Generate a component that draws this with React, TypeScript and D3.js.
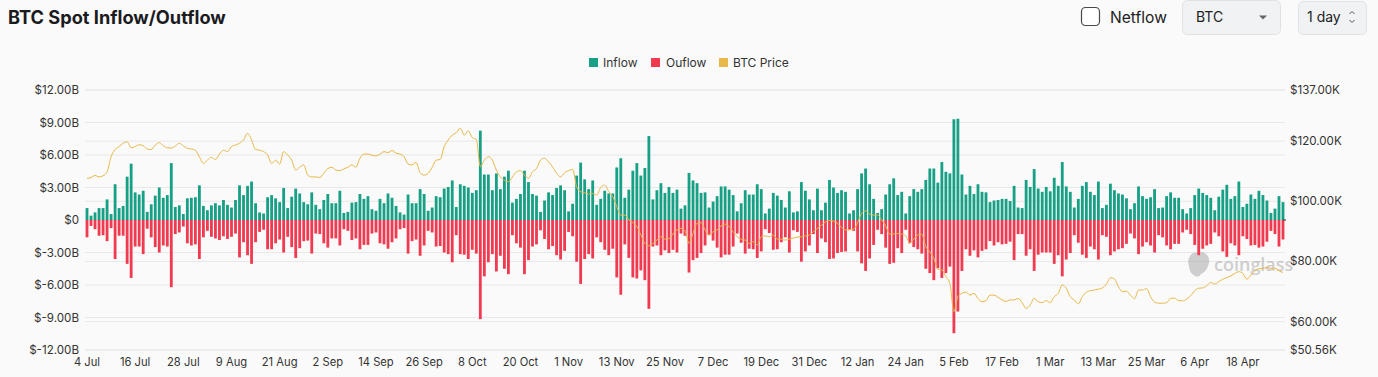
import React from "react";
import * as d3 from "d3";

const START = new Date(2025, 6, 4);

const inflow = [
  1.1, 0.4, 0.7, 1.1, 1.1, 1.9, 0.55, 3.3, 1.1, 1.3, 4.0, 5.2, 2.55, 2.35, 2.7, 0.75, 1.45, 2.25, 3.0, 2.05, 2.3, 5.25, 1.2, 1.35, 0.55, 2.0, 2.05,
  2.1, 3.2, 1.3, 0.9, 1.35, 1.55, 1.35, 1.85, 1.4, 1.15, 1.85, 3.2, 2.3, 3.15, 3.55, 1.55, 0.7, 0.6, 2.1, 2.3, 2.0, 1.65, 2.95, 1.1, 2.15, 2.9, 2.45,
  1.65, 1.45, 2.55, 1.4, 1.0, 1.85, 2.4, 1.55, 1.55, 2.7, 0.65, 0.75, 1.6, 1.65, 2.4, 1.95, 2.2, 1.0, 0.85, 1.95, 1.55, 2.45, 2.05, 1.3, 0.7, 0.5, 2.35,
  1.55, 1.55, 2.85, 2.4, 0.85, 1.15, 2.2, 2.1, 2.9, 3.05, 3.65, 1.2, 3.3, 3.15, 3.0, 2.5, 2.75, 8.25, 4.2, 4.2, 2.75, 4.3, 2.85, 4.0, 4.55, 1.6, 1.95,
  2.4, 4.55, 3.5, 2.4, 2.25, 0.75, 1.8, 2.55, 2.3, 2.95, 3.2, 2.75, 0.8, 1.5, 4.1, 5.3, 3.75, 2.85, 3.65, 1.4, 1.95, 2.7, 2.45, 2.45, 4.85, 5.7, 2.05, 2.8,
  4.55, 5.25, 4.1, 4.8, 7.75, 1.9, 2.75, 3.4, 2.5, 3.05, 2.5, 2.8, 1.05, 1.35, 4.35, 3.65, 3.4, 2.5, 2.55, 1.15, 1.7, 2.2, 3.1, 3.1, 2.8, 2.3, 0.8, 1.55,
  2.75, 2.35, 2.35, 3.3, 2.85, 0.6, 1.05, 2.5, 2.25, 1.85, 1.15, 2.65, 0.7, 0.8, 3.5, 2.7, 1.9, 0.9, 2.9, 0.9, 1.6, 3.7, 3.0, 2.5, 2.75, 2.6, 0.6,
  0.9, 2.85, 4.3, 4.75, 3.3, 1.95, 0.65, 1.0, 2.35, 3.3, 3.85, 2.3, 2.6, 0.6, 2.2, 2.85, 2.6, 2.85, 3.7, 4.75, 4.75, 3.45, 5.35, 4.45, 4.3, 9.3, 9.35, 4.2,
  2.35, 3.15, 2.4, 3.3, 2.6, 2.55, 1.65, 1.8, 1.85, 1.95, 1.95, 1.75, 3.15, 1.15, 1.1, 3.7, 3.05, 4.7, 2.9, 2.6, 3.05, 2.65, 3.9, 3.15, 5.35, 3.1, 2.6,
  1.15, 1.95, 3.15, 3.5, 2.6, 2.3, 3.55, 1.1, 1.4, 3.35, 2.75, 2.45, 2.35, 2.0, 1.0, 1.55, 3.1, 2.2, 1.95, 2.1, 2.85, 1.1, 1.15, 2.2, 2.55, 2.05, 2.05,
  1.0, 0.6, 1.1, 2.3, 2.9, 2.5, 2.3, 2.05, 0.9, 2.15, 2.8, 3.25, 1.95, 2.2, 3.55, 1.2, 1.5, 2.35, 1.95, 2.7, 2.3, 1.8, 0.65, 1.05, 2.2, 1.65,
];

const outflow = [
  1.6, 0.55, 0.85, 1.45, 1.4, 1.95, 0.75, 3.6, 1.45, 1.45, 4.05, 5.35, 2.45, 2.45, 3.15, 0.8, 1.6, 2.5, 3.0, 2.35, 2.45, 6.2, 1.3, 1.15, 0.6, 2.15, 2.35,
  2.25, 3.6, 1.6, 1.0, 1.55, 1.7, 1.85, 1.5, 1.75, 1.55, 1.25, 3.45, 2.05, 3.25, 4.05, 2.05, 1.1, 0.9, 2.7, 2.7, 2.15, 1.8, 3.0, 1.55, 2.5, 3.5, 2.6,
  1.95, 1.9, 3.1, 1.25, 1.3, 2.15, 2.55, 1.7, 1.7, 2.35, 0.85, 1.0, 1.85, 1.7, 2.7, 2.3, 2.3, 1.25, 1.15, 2.15, 2.25, 2.65, 2.05, 1.7, 0.85, 0.75, 3.1,
  1.95, 1.8, 3.3, 2.35, 1.0, 1.15, 2.45, 2.4, 3.0, 3.15, 3.9, 1.4, 3.15, 3.2, 3.6, 2.75, 3.1, 9.15, 5.2, 3.9, 3.15, 4.75, 3.3, 4.5, 5.0, 1.4, 2.15,
  2.55, 5.0, 3.7, 2.45, 2.25, 0.95, 1.75, 2.7, 2.4, 3.25, 3.65, 2.85, 1.1, 1.5, 3.85, 5.9, 3.6, 3.15, 3.55, 1.6, 2.05, 2.75, 3.25, 2.65, 5.3, 6.9, 2.25, 3.5,
  5.3, 5.4, 4.65, 5.55, 8.2, 2.45, 2.35, 3.25, 2.8, 3.05, 2.75, 3.0, 1.25, 1.45, 4.85, 3.7, 3.5, 3.05, 2.35, 1.4, 1.9, 2.55, 3.45, 3.2, 3.2, 2.45, 1.25, 2.1,
  3.1, 2.65, 2.7, 3.5, 2.9, 0.85, 1.2, 2.75, 2.7, 2.05, 1.6, 3.0, 0.95, 1.1, 3.85, 2.9, 2.35, 1.3, 3.05, 1.7, 2.05, 3.6, 3.55, 3.05, 2.95, 2.9, 0.9,
  1.0, 2.9, 4.0, 4.7, 3.55, 2.3, 0.9, 1.3, 2.55, 4.05, 3.95, 2.6, 3.05, 0.9, 2.15, 2.5, 2.7, 3.1, 4.5, 4.9, 5.55, 4.45, 5.35, 4.9, 4.3, 10.45, 8.45, 4.7,
  2.7, 3.3, 2.8, 3.45, 2.85, 2.7, 1.95, 2.35, 2.05, 2.25, 2.2, 2.0, 3.7, 1.3, 1.3, 3.3, 2.7, 4.7, 3.2, 3.0, 3.0, 3.0, 4.05, 3.25, 5.2, 3.65, 3.05,
  1.4, 2.1, 3.2, 3.5, 2.45, 2.7, 3.65, 1.4, 1.55, 3.25, 2.9, 2.7, 2.6, 2.2, 1.25, 1.7, 3.15, 2.45, 2.05, 2.35, 3.0, 1.4, 1.6, 2.35, 2.7, 2.2, 2.2,
  1.15, 0.9, 1.3, 2.3, 3.25, 2.65, 2.35, 2.2, 1.15, 1.5, 2.9, 3.4, 2.15, 2.35, 3.25, 1.5, 1.75, 2.35, 2.3, 2.55, 2.45, 2.0, 1.0, 1.3, 2.45, 1.8,
];

const btcPrice = [
  107.6, 107.9, 108.6, 108.1, 108.5, 109.8, 114.8, 117.2, 118.2, 119.3, 119.8, 117.8, 118.2, 118.8, 118.5, 117.4, 117.2, 118.7, 119.5, 118.5, 117.8, 117.7, 118.4, 119.3, 118.4, 117.6, 117.4,
  117.0, 114.8, 112.6, 113.7, 114.6, 113.9, 115.7, 117.0, 116.5, 118.2, 118.7, 119.3, 120.4, 122.6, 120.4, 117.2, 117.0, 116.5, 115.4, 112.6, 113.7, 112.4, 116.5, 115.4, 113.7, 110.4, 111.4,
  112.1, 108.7, 108.1, 108.1, 107.9, 109.3, 110.9, 111.3, 110.4, 110.2, 110.8, 111.3, 112.1, 111.3, 114.3, 115.7, 115.7, 115.3, 115.1, 115.7, 116.5, 116.2, 116.9, 116.0, 115.7, 114.8, 112.4,
  112.1, 112.9, 109.5, 108.7, 109.3, 111.3, 113.7, 113.9, 118.2, 120.4, 122.0, 122.8, 124.3, 122.0, 123.4, 121.2, 120.6, 111.5, 113.7, 114.8, 113.7, 110.4, 108.1, 107.0, 106.5, 108.1, 109.8,
  110.2, 108.7, 107.6, 109.8, 110.9, 113.7, 114.3, 113.1, 111.5, 109.3, 108.1, 109.5, 110.2, 110.6, 104.8, 103.2, 102.8, 102.4, 102.6, 102.1, 104.6, 105.4, 103.2, 101.5, 98.2, 95.4, 95.4, 93.8,
  92.9, 91.6, 88.8, 86.0, 85.2, 86.0, 87.1, 88.2, 87.4, 87.6, 89.1, 90.5, 91.0, 90.2, 86.0, 89.3, 92.7, 92.9, 90.5, 88.8, 89.9, 90.5, 91.8, 92.4, 91.6, 89.9, 88.2, 87.4,
  87.1, 86.0, 86.6, 85.5, 88.2, 88.5, 88.2, 88.8, 87.4, 87.4, 87.1, 87.4, 87.8, 88.1, 88.2, 88.5, 88.8, 89.9, 91.0, 92.1, 93.1, 93.6, 93.4, 92.7, 91.3, 90.5, 90.5,
  90.7, 92.9, 96.0, 96.8, 95.8, 95.4, 95.4, 93.8, 91.8, 89.1, 89.1, 89.3, 89.1, 88.5, 86.2, 87.4, 88.8, 89.0, 84.9, 83.2, 81.0, 77.4, 77.2, 74.9, 72.7, 63.3, 68.3, 69.4,
  69.8, 68.8, 69.4, 67.7, 66.6, 67.0, 68.8, 68.8, 68.1, 67.2, 66.7, 67.2, 67.2, 67.7, 66.3, 64.4, 65.5, 67.7, 66.6, 66.3, 67.0, 66.3, 68.3, 69.4, 72.2, 71.1, 68.3,
  67.2, 65.9, 68.3, 69.8, 70.3, 70.5, 70.8, 71.2, 72.5, 74.6, 74.2, 71.6, 70.0, 70.1, 68.8, 67.6, 70.5, 70.5, 71.0, 68.3, 66.5, 66.1, 66.1, 66.3, 67.7, 67.8, 67.0,
  66.9, 67.5, 68.6, 70.3, 71.1, 71.2, 71.9, 73.0, 72.5, 73.3, 74.1, 74.6, 75.2, 76.0, 76.6, 76.0, 74.1, 75.5, 76.9, 77.6, 77.7, 78.0, 77.7, 77.7, 76.9, 76.3,
];

const xTickLabels = [
  "4 Jul", "16 Jul", "28 Jul", "9 Aug", "21 Aug", "2 Sep", "14 Sep", "26 Sep", "8 Oct", "20 Oct", "1 Nov", "13 Nov", "25 Nov",
  "7 Dec", "19 Dec", "31 Dec", "12 Jan", "24 Jan", "5 Feb", "17 Feb", "1 Mar", "13 Mar", "25 Mar", "6 Apr", "18 Apr",
];
const flowTicks = [12, 9, 6, 3, 0, -3, -6, -9, -12];
const priceTicks = [137, 120, 100, 80, 60, 50.56];

const W = 1378;
const H = 377;
const PL = 85;
const PR = 1285;
const PT = 90;
const PB = 350;

const GREEN = "#17a085";
const RED = "#f03a50";
const GOLD = "#e8b84a";
const FONT = "Inter, 'Noto Sans', sans-serif";

export default function App() {
  const n = inflow.length;
  const dates = d3.timeDay.range(START, d3.timeDay.offset(START, n));
  const fmt = d3.timeFormat("%-d %b");

  const x = d3.scaleBand<number>().domain(d3.range(n)).range([PL, PR]).paddingInner(0.3).paddingOuter(0.15);
  const bw = x.bandwidth();
  const cx = (i: number) => (x(i) as number) + bw / 2;
  const yL = d3.scaleLinear().domain([-12, 12]).range([PB, PT]);
  const yR = d3.scaleLinear().domain([50.56, 137]).range([PB, PT]);

  const line = d3
    .line<number>()
    .x((_, i) => cx(i))
    .y((d) => yR(d))
    .curve(d3.curveMonotoneX);

  const fmtFlow = (v: number) => (v === 0 ? "$0" : `$${v.toFixed(2)}B`);
  const fmtPrice = (v: number) => `$${v.toFixed(2)}K`;

  const ticksX = dates
    .map((d, i) => ({ label: fmt(d), i }))
    .filter((t) => xTickLabels.includes(t.label));

  return (
    <div style={{ position: "absolute", left: 0, top: 0, width: W, height: H }}>
      <svg width={W} height={H} style={{ display: "block", fontFamily: FONT }}>
        <rect x={0} y={0} width={W} height={H} fill="#fafafa" />
        {/* header */}
        <text x={8} y={24} fontSize={18.2} fontWeight={700} fill="#1b1b1f">
          BTC Spot Inflow/Outflow
        </text>
        <rect x={1081.5} y={7.5} width={18} height={18} rx={4} fill="#fff" stroke="#4a4a4a" strokeWidth={1.2} />
        <text x={1110} y={23} fontSize={15.6} fill="#222">
          Netflow
        </text>
        <rect x={1182.5} y={0.5} width={98} height={34} rx={5} fill="#f1f2f4" stroke="#e0e2e6" />
        <text x={1196} y={22} fontSize={14} fill="#222">
          BTC
        </text>
        <path d="M1259,15.5 L1267,15.5 L1263,19.5 Z" fill="#666" />
        <rect x={1298.5} y={1.5} width={68} height={33} rx={5} fill="#f1f2f4" stroke="#e0e2e6" />
        <text x={1307} y={22} fontSize={14} fill="#222">
          1 day
        </text>
        <path d="M1349.5,14 L1352,11.5 L1354.5,14 M1349.5,20 L1352,22.5 L1354.5,20" fill="none" stroke="#555" strokeWidth={1} />

        {/* legend */}
        <rect x={589} y={58} width={9} height={9} fill={GREEN} />
        <text x={603} y={66.5} fontSize={12} fill="#333">
          Inflow
        </text>
        <rect x={651} y={58} width={9} height={9} fill={RED} />
        <text x={666} y={66.5} fontSize={12} fill="#333">
          Ouflow
        </text>
        <rect x={719} y={58} width={9} height={9} fill={GOLD} />
        <text x={733} y={66.5} fontSize={12} fill="#333">
          BTC Price
        </text>

        {/* grid */}
        {flowTicks.map((t) => (
          <line key={"gl" + t} x1={PL} x2={PR} y1={yL(t)} y2={yL(t)} stroke="#e8e8e8" strokeWidth={1} />
        ))}
        {priceTicks.map((t) => (
          <line key={"gr" + t} x1={PL} x2={PR} y1={yR(t)} y2={yR(t)} stroke="#e8e8e8" strokeWidth={1} />
        ))}

        {/* watermark */}
        <g opacity={0.45} fill="#9a9a9a">
          <path d="M1190,256 Q1193,251 1198,253 Q1203,250 1207,255 Q1211,260 1208,266 Q1206,272 1201,274 Q1199,278 1195,276 Q1189,273 1189,266 Q1187,260 1190,256 Z" />
          <text x={1214} y={271} fontSize={18} fontWeight={600} fontFamily="'Open Sans', sans-serif">
            coinglass
          </text>
        </g>

        {/* bars */}
        {inflow.map((v, i) => (
          <rect key={"in" + i} x={x(i)} y={yL(v)} width={bw} height={yL(0) - yL(v)} fill={GREEN} />
        ))}
        {outflow.map((v, i) => (
          <rect key={"out" + i} x={x(i)} y={yL(0)} width={bw} height={yL(-v) - yL(0)} fill={RED} />
        ))}
        <line x1={PR - 2} x2={PR + 1} y1={yL(0)} y2={yL(0)} stroke="#333" strokeWidth={1} />

        {/* price line */}
        <path d={line(btcPrice.slice(0, n)) || ""} fill="none" stroke={GOLD} strokeWidth={1} />

        {/* left axis */}
        {flowTicks.map((t) => (
          <text key={"lt" + t} x={79} y={yL(t) + 4} fontSize={11.6} fill="#333" textAnchor="end">
            {fmtFlow(t)}
          </text>
        ))}
        {/* right axis */}
        {priceTicks.map((t) => (
          <text key={"rt" + t} x={1290} y={yR(t) + 4} fontSize={11.6} fill="#333" textAnchor="start">
            {fmtPrice(t)}
          </text>
        ))}
        {/* x axis */}
        {ticksX.map((t) => (
          <text key={"xt" + t.i} x={cx(t.i)} y={366} fontSize={11.2} fill="#333" textAnchor="middle">
            {t.label}
          </text>
        ))}
      </svg>
    </div>
  );
}
